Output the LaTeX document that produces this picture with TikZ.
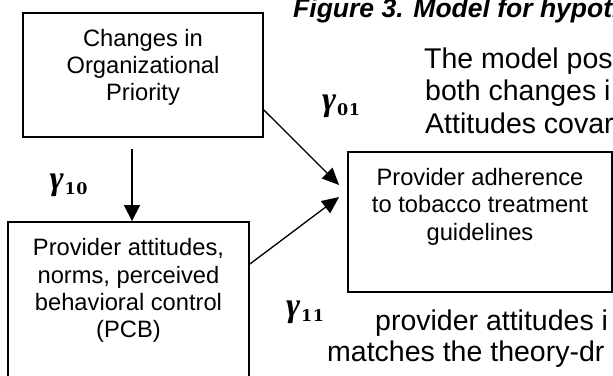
\documentclass[tikz,border=0pt]{standalone}
\usepackage{fontspec}
\setmainfont{Liberation Sans}
\newfontfamily\gserif{Liberation Serif}
\newfontfamily\gdigits{DejaVu Serif}
\usetikzlibrary{arrows.meta,calc}
\newcommand{\gam}[2]{{\gserif\bfseries\itshape\fontsize{34}{34}\selectfont γ}\kern1pt\raisebox{-5pt}{\gdigits\bfseries\fontsize{16}{16}\selectfont #1\kern0.5pt#2}}
\tikzset{
  box/.style={draw, line width=1.8pt, inner sep=0, fill=white},
  txt/.style={font=\fontsize{23.7}{27.5}\selectfont, anchor=base, inner sep=0},
  para/.style={font=\fontsize{28.5}{32}\selectfont, anchor=base west, inner sep=0},
  ttl/.style={font=\fontsize{26.5}{30}\selectfont\bfseries\itshape, anchor=base west, inner sep=0},
  gamlbl/.style={inner sep=0, anchor=center},
  arr/.style={line width=1.3pt, -{Triangle[length=17pt,width=15pt]}},
  varr/.style={line width=1.3pt, -{Triangle[length=16pt,width=16pt]}}
}
\begin{document}
\begin{tikzpicture}[x=1pt,y=-1pt]
\useasboundingbox (0,0) rectangle (613,375);
\clip (0,0) rectangle (613,375);
\fill[white] (0,0) rectangle (613,375);

% title and surrounding paragraph text
\node[ttl] (title) at (293,17) {Figure 3. Model for hypoth};
\node[para] (p1) at (424,68) {The model pos};
\node[para] (p2) at (425,100) {both changes i};
\node[para] (p3) at (425,133) {Attitudes covar};
\node[para] (p4) at (375,330) {provider attitudes i};
\node[para] (p5) at (327,361) {matches the theory-dr};

% boxes
\node[box, minimum width=240pt, minimum height=124pt] (b1) at (143,75) {};
\node[box, minimum width=241pt, minimum height=178pt] (b2) at (128.5,311) {};
\node[box, minimum width=264pt, minimum height=140pt] (b3) at (480,222) {};

% box texts
\node[txt] (b1a) at (143,46.5) {Changes in};
\node[txt] (b1b) at (143,73.5) {Organizational};
\node[txt] (b1c) at (143,100) {Priority};

\node[txt] (b2a) at (128.5,255) {Provider attitudes,};
\node[txt] (b2b) at (128.5,283) {norms, perceived};
\node[txt] (b2c) at (128.5,310) {behavioral control};
\node[txt] (b2d) at (128.5,337) {(PCB)};

\node[txt] (b3a) at (480,185) {Provider adherence};
\node[txt] (b3b) at (480,212) {to tobacco treatment};
\node[txt] (b3c) at (480,240) {guidelines};

% gamma labels
\node[gamlbl] (g10) at (68.5,185) {\gam{1}{0}};
\node[gamlbl] (g01) at (341,106) {\gam{0}{1}};
\node[gamlbl] (g11) at (305,312) {\gam{1}{1}};

% connectors
\coordinate (v1) at ($(b1.south)+(-11,11)$);
\draw[varr] (v1) -- (v1 |- b2.north);
\coordinate (a1s) at ($(b1.east)+(0,35)$);
\coordinate (a1e) at ($(b3.west)+(-8,-37)$);
\draw[arr] (a1s) -- (a1e);
\coordinate (a2s) at ($(b2.east)+(0,-47)$);
\coordinate (a2e) at ($(b3.west)+(-8,-25)$);
\draw[arr] (a2s) -- (a2e);
\end{tikzpicture}
\end{document}
